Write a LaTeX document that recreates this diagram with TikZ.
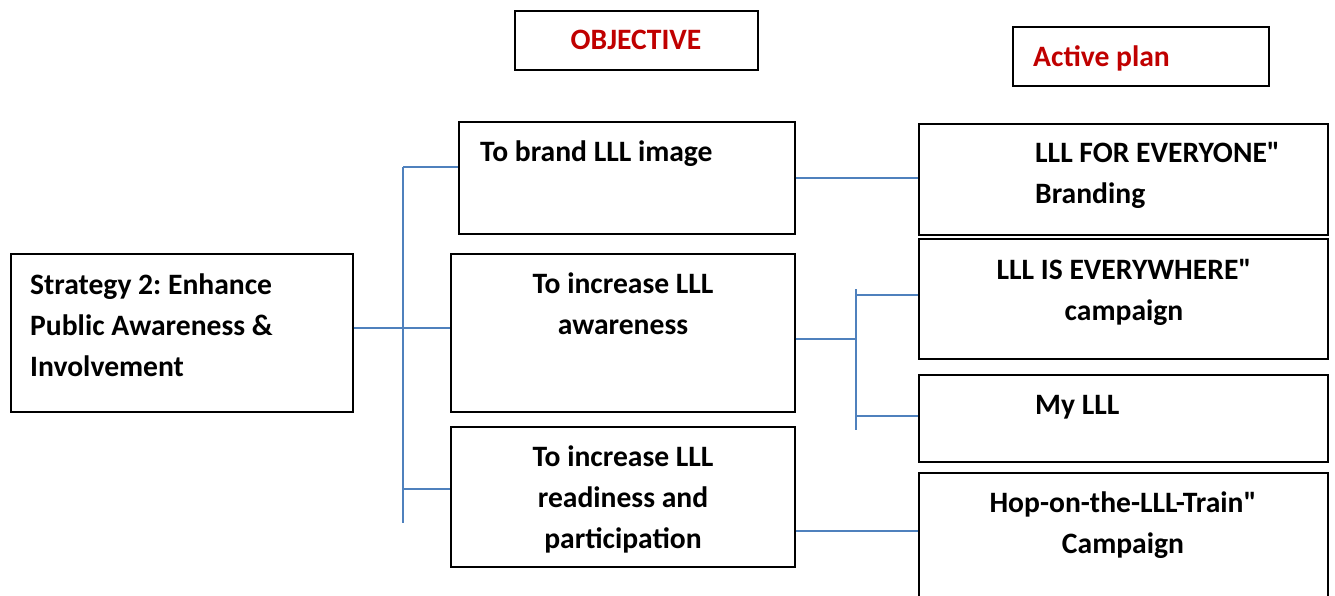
\documentclass[tikz,border=0pt]{standalone}
\usepackage{fontspec}
\setmainfont{Carlito}
\usepackage{tikz}
\usetikzlibrary{positioning}

\definecolor{linkblue}{HTML}{4F81BD}
\definecolor{headred}{HTML}{C00000}

\tikzset{
  box/.style={draw=black, line width=1.3pt, inner sep=0pt},
  txt/.style={inner sep=0pt, font=\fontsize{29.6}{41}\selectfont\bfseries},
  head/.style={txt, text=headred},
  conn/.style={draw=linkblue, line width=1.7pt}
}
\frenchspacing

\begin{document}
\begin{tikzpicture}[x=1pt, y=-1pt]
  \useasboundingbox (0,0) rectangle (1335,596);
  % boxes
  \node[box, minimum width=243pt, minimum height=59pt] (objhead) at (636.5,40.5) {};
  \node[box, minimum width=256pt, minimum height=59pt] (planhead) at (1141,56.5) {};
  \node[box, minimum width=342pt, minimum height=158pt] (strat) at (182,333) {};
  \node[box, minimum width=336pt, minimum height=112pt] (obj1) at (627,178) {};
  \node[box, minimum width=344pt, minimum height=158pt] (obj2) at (623,333) {};
  \node[box, minimum width=344pt, minimum height=140pt] (obj3) at (623,497) {};
  \node[box, minimum width=409pt, minimum height=111pt] (plan1) at (1123.5,179.5) {};
  \node[box, minimum width=409pt, minimum height=120pt] (plan2) at (1123.5,299) {};
  \node[box, minimum width=409pt, minimum height=87pt] (plan3) at (1123.5,418.5) {};
  \node[box, minimum width=409pt, minimum height=137pt] (plan4) at (1123.5,541.5) {};
  % texts (base = last line)
  \node[head, anchor=base] (objhead-t) at (636,50) {OBJECTIVE};
  \node[head, anchor=base west] (planhead-t) at (1033,67) {Active plan};
  \node[txt, anchor=base west, align=left] (strat-t) at (30,376)
    {Strategy 2: Enhance\\Public Awareness \&\\Involvement};
  \node[txt, anchor=base west] (obj1-t) at (480,162) {To brand LLL image};
  \node[txt, anchor=base, align=center] (obj2-t) at (623,334)
    {To increase LLL\\awareness};
  \node[txt, anchor=base, align=center] (obj3-t) at (623,548)
    {To increase LLL\\readiness and\\participation};
  \node[txt, anchor=base west, align=left] (plan1-t) at (1035,204)
    {LLL FOR EVERYONE\textquotedbl\\Branding};
  \node[txt, anchor=base, align=center] (plan2-t) at (1124,320)
    {LLL IS EVERYWHERE\textquotedbl\\campaign};
  \node[txt, anchor=base west] (plan3-t) at (1035,414) {My LLL};
  \node[txt, anchor=base, align=center] (plan4-t) at (1123,553)
    {Hop-on-the-LLL-Train\textquotedbl\\Campaign};
  % left tree
  \coordinate (ltop) at (403,167);
  \coordinate (lmid) at (403,328);
  \coordinate (llow) at (403,489);
  \coordinate (lbot) at (403,523);
  \draw[conn] (ltop) -- (lbot);
  \draw[conn] (ltop) -- (ltop -| obj1.west);
  \draw[conn] (lmid -| strat.east) -- (lmid -| obj2.west);
  \draw[conn] (llow) -- (llow -| obj3.west);
  % right tree
  \coordinate (rtop) at (856,289);
  \coordinate (rup) at (856,295);
  \coordinate (rmid) at (856,339);
  \coordinate (rdn) at (856,416);
  \coordinate (rbot) at (856,430);
  \coordinate (rlow) at (856,531);
  \draw[conn] (rtop) -- (rbot);
  \draw[conn] (rmid -| obj2.east) -- (rmid);
  \draw[conn] (rup) -- (rup -| plan2.west);
  \draw[conn] (rdn) -- (rdn -| plan3.west);
  \draw[conn] (obj1.east) -- (obj1.east -| plan1.west);
  \draw[conn] (rlow -| obj3.east) -- (rlow -| plan4.west);
\end{tikzpicture}
\end{document}
